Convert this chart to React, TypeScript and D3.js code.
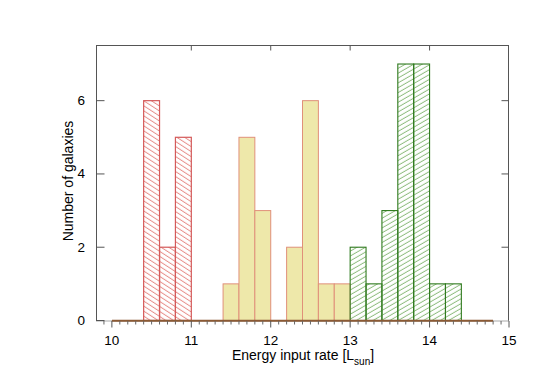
import React from "react";
import * as d3 from "d3";

const binWidth = 0.2;
const redBins = [10.4, 10.6, 10.8];
const redCounts = [6, 2, 5];
const yellowBins = [11.4, 11.6, 11.8, 12.2, 12.4, 12.6, 12.8];
const yellowCounts = [1, 5, 3, 2, 6, 1, 1];
const greenBins = [13.0, 13.2, 13.4, 13.6, 13.8, 14.0, 14.2];
const greenCounts = [2, 1, 3, 7, 7, 1, 1];
const xMajor = [10, 11, 12, 13, 14, 15];
const yMajor = [0, 2, 4, 6];
const baseRange = [10.0, 14.8];

const W = 550, H = 367;
const x = d3.scaleLinear().domain([9.8, 15]).range([96, 509]);
const y = d3.scaleLinear().domain([0, 7.5]).range([320.5, 45.7]);
const FONT = "'Liberation Sans', Arial, Helvetica, sans-serif";

function Bars({ bins, counts, fill, stroke, sw }: any) {
  return (
    <g>
      {bins.map((b: number, i: number) => (
        <rect key={i} x={x(b)} y={y(counts[i])} width={x(b + binWidth) - x(b)} height={y(0) - y(counts[i])}
          fill={fill} stroke={stroke} strokeWidth={sw} />
      ))}
    </g>
  );
}

export default function App() {
  const minor = d3.range(99, 150).map((v) => v / 10).filter((v) => Math.abs(v - Math.round(v)) > 1e-6);
  return (
    <svg width={W} height={H} style={{ position: "absolute", left: 0, top: 0, background: "#fff" }} fontFamily={FONT}>
      <defs>
        <pattern id="hRed" patternUnits="userSpaceOnUse" width="6" height="4.2" patternTransform="rotate(33)">
          <line x1="0" y1="2" x2="6" y2="2" stroke="#e06a66" strokeWidth="0.8" />
        </pattern>
        <pattern id="hGreen" patternUnits="userSpaceOnUse" width="6" height="4.2" patternTransform="rotate(-30)">
          <line x1="0" y1="2" x2="6" y2="2" stroke="#6aa856" strokeWidth="0.8" />
        </pattern>
      </defs>
      <Bars bins={yellowBins} counts={yellowCounts} fill="#eee8aa" stroke="#e0907a" sw={1} />
      <Bars bins={redBins} counts={redCounts} fill="url(#hRed)" stroke="#d45a5a" sw={1.2} />
      <Bars bins={greenBins} counts={greenCounts} fill="url(#hGreen)" stroke="#2f7a1e" sw={1.1} />
      {/* frame */}
      <line x1={96} y1={45.5} x2={509} y2={45.5} stroke="#555" />
      <line x1={96.5} y1={45} x2={96.5} y2={321} stroke="#555" />
      <line x1={508.5} y1={45} x2={508.5} y2={321} stroke="#555" />
      <line x1={96} y1={321} x2={509} y2={321} stroke="#aaa" strokeWidth={1.2} />
      <line x1={x(baseRange[0])} y1={320.7} x2={x(baseRange[1])} y2={320.7} stroke="#8b5a35" strokeWidth={2} />
      {/* bottom ticks */}
      {minor.map((v, i) => (
        <line key={"m" + i} x1={x(v)} x2={x(v)} y1={321} y2={324.5} stroke="#666" />
      ))}
      {xMajor.map((v, i) => (
        <g key={"x" + i}>
          <line x1={x(v)} x2={x(v)} y1={321} y2={327.5} stroke="#555" />
          {v > 10 && v < 15 && <line x1={x(v)} x2={x(v)} y1={45} y2={50.5} stroke="#555" />}
          <text x={x(v)} y={345} textAnchor="middle" fontSize={13.5} fill="#000">{v}</text>
        </g>
      ))}
      {yMajor.map((v, i) => (
        <g key={"y" + i}>
          <line x1={96} x2={104.5} y1={y(v)} y2={y(v)} stroke="#555" />
          {v > 0 && <line x1={501.5} x2={509} y1={y(v)} y2={y(v)} stroke="#555" />}
          <text x={85} y={y(v) + 4.5} textAnchor="end" fontSize={13.5} fill="#000">{v}</text>
        </g>
      ))}
      <text x={303} y={359.5} textAnchor="middle" fontSize={14} fill="#000">
        Energy input rate [L<tspan fontSize={10} dy={5}>sun</tspan><tspan dy={-5}>]</tspan>
      </text>
      <text transform={`translate(73,${181}) rotate(-90)`} textAnchor="middle" fontSize={14} fill="#000">Number of galaxies</text>
    </svg>
  );
}
